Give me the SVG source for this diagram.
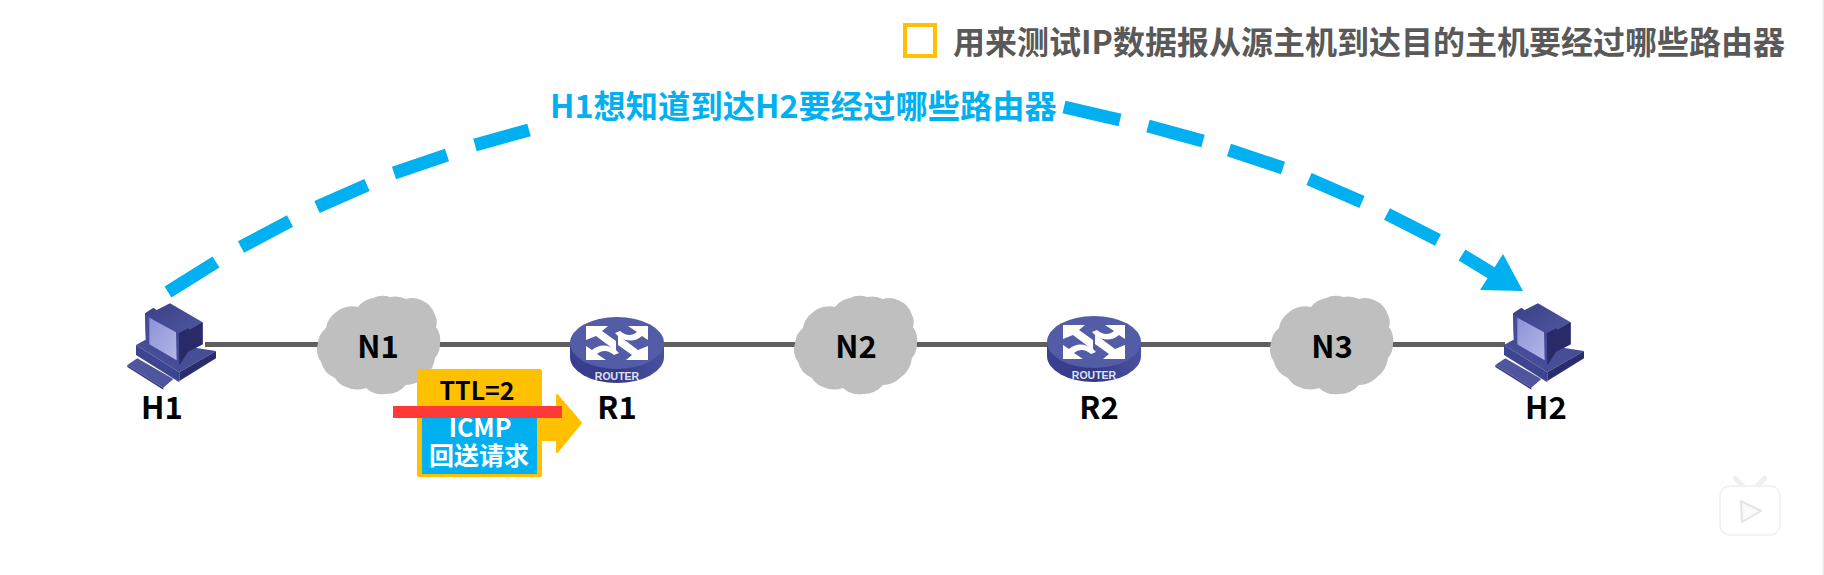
<svg xmlns="http://www.w3.org/2000/svg" xmlns:xlink="http://www.w3.org/1999/xlink" width="1824" height="575" viewBox="0 0 1824 575">
<style>
text{font-family:"Noto Sans CJK SC","Noto Sans",sans-serif;font-weight:700}
.lbl{font-size:31px;fill:#000;text-anchor:middle}
.dash{fill:none;stroke:#00B0F0;stroke-width:13}
.link{fill:none;stroke:#5f5f5f;stroke-width:5}
.rt{font-family:"Liberation Sans",sans-serif;font-size:10.5px;fill:#dfe2f5;text-anchor:middle}
</style>
<defs>
<linearGradient id="screen" x1="0" y1="0" x2="1" y2="1"><stop offset="0" stop-color="#8d92d6"/><stop offset="1" stop-color="#b3b7ea"/></linearGradient>
<linearGradient id="ctop" x1="0" y1="0" x2="1" y2="1"><stop offset="0" stop-color="#3a4088"/><stop offset="1" stop-color="#565fa6"/></linearGradient>
<linearGradient id="rside" x1="0" y1="0" x2="1" y2="0"><stop offset="0" stop-color="#3a4090"/><stop offset=".5" stop-color="#343a85"/><stop offset="1" stop-color="#4a52a0"/></linearGradient>
<g id="pc">
<path d="M22 210L52 190L160 252L130 278Z" fill="#4f569e"/>
<path d="M22 210L130 278L130 284L22 216Z" fill="#363b80"/>
<path d="M48 150L75 135L288 168L178 232Z" fill="#474e98"/>
<path d="M48 150L178 232L178 262L48 180Z" fill="#3d4490"/>
<path d="M178 232L288 168L288 190L178 258Z" fill="#292d6c"/>
<path d="M75 55L100 38L110 45L150 25L248 82L248 148L205 170L180 212L78 150Z" fill="url(#ctop)"/>
<path d="M175 115L205 100L208 105L248 82L248 148L205 170L178 212Z" fill="#282b68"/>
<path d="M75 55L175 115L178 212L78 150Z" fill="#454b99"/>
<path d="M88 68L168 112L170 196L88 148Z" fill="url(#screen)"/>
</g>
<g id="router">
<ellipse cx="0" cy="14" rx="47" ry="26" fill="url(#rside)"/>
<rect x="-47" y="0" width="94" height="14" fill="url(#rside)"/>
<ellipse cx="0" cy="0" rx="47" ry="26" fill="#535ca6"/>
<g id="arrows" fill="#fff">
<path d="M-31-17H-9L-15-12L-1 -2V8L-21-7L-31-3Z"/>
<path d="M31 17H9L15 12L1 2V-8L21 7L31 3Z"/>
<path d="M31-17V-3L25-7C18-1 9 -1 1-7L-2-10L3-12C9-7 15-7 20-11L11-17Z"/>
<path d="M-31 17V3L-25 7C-18 1-9 1-1 7L2 10L-3 12C-9 7-15 7-20 11L-11 17Z"/>
</g>
<text class="rt" x="0" y="37">ROUTER</text>
</g>
<path id="cloud" fill="#BFBFBF" d="M15 53A22 22 0 0 1 23 38A24 24 0 0 1 32 23A26 26 0 0 1 55 17A24 24 0 0 1 70 8A24 24 0 0 1 87 7A24 24 0 0 1 103 9A22 22 0 0 1 118 10A24 24 0 0 1 132 25A16 16 0 0 1 133 37A22 22 0 0 1 137 53A22 22 0 0 1 132 68A28 28 0 0 1 120 88A24 24 0 0 1 103 95A26 26 0 0 1 83 104A24 24 0 0 1 63 98A26 26 0 0 1 43 97A20 20 0 0 1 32 88A24 24 0 0 1 18 72A22 22 0 0 1 15 53Z"/>
</defs>
<rect width="1824" height="575" fill="#fff"/>
<rect x="1822.5" y="0" width="1.5" height="575" fill="#ececec"/>

<g id="connectors">
<path class="link" d="M205 344.500H1505"/>
<path class="dash" d="M168 292L216 262M241 247L290 221M317 207L367 185M394 173L447 155M475 145L529 130M1064 107L1120 120M1148 126L1203 141M1229 150L1283 168M1309 179L1362 202M1387 214L1438 240M1462 255L1498 277"/>
<polygon points="1503,254 1523,291 1480,290" fill="#00B0F0"/>
</g>

<g id="H1"><use xlink:href="#pc" href="#pc" transform="translate(120 295) scale(.3333)"/><text class="lbl" x="162" y="419">H1</text></g>
<g id="N1"><use xlink:href="#cloud" href="#cloud" transform="translate(303 290)"/><text class="lbl" x="378" y="358">N1</text></g>
<g id="R1"><use xlink:href="#router" href="#router" transform="translate(617 343)"/><text class="lbl" x="617" y="419">R1</text></g>
<g id="N2"><use xlink:href="#cloud" href="#cloud" transform="translate(780 290)"/><text class="lbl" x="856" y="358">N2</text></g>
<g id="R2"><use xlink:href="#router" href="#router" transform="translate(1094 342)"/><text class="lbl" x="1099" y="419">R2</text></g>
<g id="N3"><use xlink:href="#cloud" href="#cloud" transform="translate(1256 290)"/><text class="lbl" x="1332" y="358">N3</text></g>
<g id="H2"><use xlink:href="#pc" href="#pc" transform="translate(1488 295) scale(.3333)"/><text class="lbl" x="1546" y="419">H2</text></g>

<g id="packet">
<polygon points="542,418 557,418 557,395 581,423 557,452 557,440 542,440" fill="#FFC000" stroke="#FFC000" stroke-width="2" stroke-linejoin="round"/>
<rect x="417" y="369" width="125" height="108" rx="2" fill="#FFC000"/>
<rect x="422" y="410" width="115" height="64" fill="#00B0F0"/>
<text x="477" y="400" font-size="25" fill="#000" text-anchor="middle">TTL=2</text>
<text font-size="25" fill="#fff" text-anchor="middle"><tspan x="480" y="437">ICMP</tspan><tspan x="479" y="465">回送请求</tspan></text>
<rect x="393" y="406" width="169" height="12" fill="#FF3838"/>
</g>

<g id="title">
<rect x="905" y="25" width="30" height="31" fill="none" stroke="#FFC000" stroke-width="4"/>
<text x="953" y="54" font-size="32" fill="#595959">用来测试IP数据报从源主机到达目的主机要经过哪些路由器</text>
</g>
<g id="caption"><text x="550" y="118" font-size="32.300" fill="#00B0F0">H1想知道到达H2要经过哪些路由器</text></g>

<g id="play" stroke-linejoin="round">
<path d="M1735 478L1745 488M1765 478L1755 488" stroke="#f0f0f0" stroke-width="5" stroke-linecap="round"/>
<rect x="1720" y="486" width="60" height="49" rx="10" fill="#fff" stroke="#efefef" stroke-width="1.500"/>
<polygon points="1741,501 1761,511 1742,522" fill="#fafafa" stroke="#e4e4e4" stroke-width="2"/>
</g>
</svg>
